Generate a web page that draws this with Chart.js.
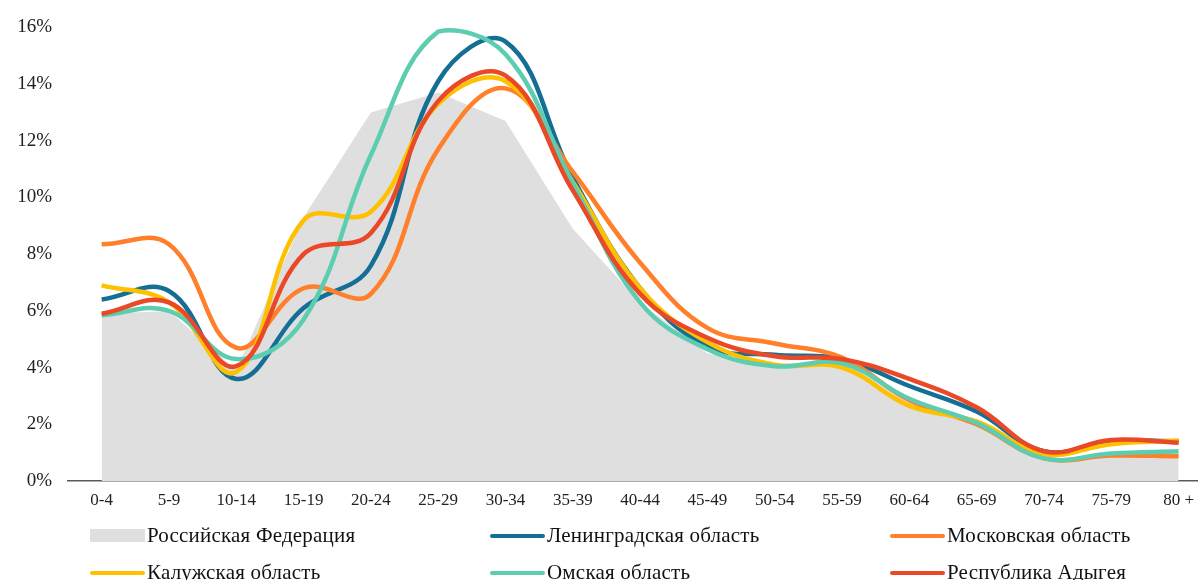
<!DOCTYPE html>
<html>
<head>
<meta charset="utf-8">
<script src="https://cdn.jsdelivr.net/npm/chart.js@4/dist/chart.umd.min.js"></script>
<style>
    html, body { margin: 0; padding: 0; background: #fff; }
    #wrap { position: relative; width: 1203px; height: 580px; overflow: hidden; }
    #box { position: absolute; left: 0; top: 0; width: 1203px; height: 515px; }
    #legend { position: absolute; left: 0; top: 0; width: 1203px; height: 580px; pointer-events: none; }
    .item { position: absolute; display: flex; align-items: center; font-family: "Liberation Serif", serif; font-size: 21px; letter-spacing: 0.2px; color: #111; white-space: nowrap; }
    .mark { width: 55px; margin-right: 2px; }
</style>
</head>
<body>
<div id="wrap">
    <div id="box"><canvas id="graph"></canvas></div>
    <div id="legend"></div>
</div>
<script>
// age groups
const ageGroups = ['0-4', '5-9', '10-14', '15-19', '20-24', '25-29', '30-34', '35-39', '40-44',
    '45-49', '50-54', '55-59', '60-64', '65-69', '70-74', '75-79', '80 +']

// share of population in each age group, %
const russia    = [5.9, 6.0, 3.9, 9.3, 13.0, 13.7, 12.7, 8.9, 6.3, 4.5, 4.05, 4.2, 2.8, 2.0, 0.75, 0.95, 1.0]
const leningrad = [6.4, 6.7, 3.6, 6.1, 7.6, 14.1, 15.5, 10.7, 6.8, 4.75, 4.45, 4.3, 3.35, 2.45, 1.05, 1.4, 1.4]
const moscow    = [8.35, 8.35, 4.7, 6.8, 6.6, 11.7, 13.85, 10.9, 7.7, 5.4, 4.85, 4.35, 2.85, 2.0, 0.8, 0.9, 0.87]
const kaluga    = [6.9, 6.3, 3.85, 9.2, 9.5, 13.3, 14.1, 10.55, 6.8, 4.9, 4.1, 4.0, 2.65, 2.1, 0.95, 1.3, 1.43]
const omsk      = [5.85, 6.0, 4.3, 5.7, 11.5, 15.85, 15.05, 10.5, 6.3, 4.65, 4.05, 4.15, 2.9, 2.05, 0.8, 0.97, 1.05]
const adygea    = [5.9, 6.3, 4.05, 8.0, 8.75, 13.4, 14.3, 10.25, 6.6, 5.05, 4.4, 4.3, 3.6, 2.6, 1.05, 1.45, 1.35]

const yTicks = [0, 2, 4, 6, 8, 10, 12, 14, 16]

// linear x axis so the axis line can run past the first and last group like in excel
let toPoints = arr => arr.map((v, i) => ({x: i, y: v}))

let lineSet = (label, data, color, order) => ({
    label: label,
    data: toPoints(data),
    borderColor: color,
    backgroundColor: color,
    borderWidth: 4.5,
    tension: 0.4,
    fill: false,
    pointRadius: 0,
    order: order
})

let chart = new Chart(document.getElementById('graph'), {
    type: 'line',
    data: {
        datasets: [
            {
                label: 'Российская Федерация',
                data: toPoints(russia),
                borderWidth: 0,
                backgroundColor: '#dfdfdf',
                borderColor: '#dfdfdf',
                fill: 'origin',
                tension: 0,
                pointRadius: 0,
                order: 7
            },
            lineSet('Ленинградская область', leningrad, '#156f94', 6),
            lineSet('Московская область', moscow, '#ff7f2a', 5),
            lineSet('Калужская область', kaluga, '#ffc000', 4),
            lineSet('Омская область', omsk, '#5ccdb0', 3),
            lineSet('Республика Адыгея', adygea, '#ea4826', 2)
        ]
    },
    options: {
        responsive: true,
        maintainAspectRatio: false,
        animation: false,
        layout: {padding: {top: 20, left: 0, right: 0, bottom: 0}},
        scales: {
            x: {
                type: 'linear',
                min: -0.5,
                max: 16.28,
                afterFit: s => { s.height = 34 },
                grid: {display: false, drawTicks: false},
                border: {display: true, color: '#595959', width: 1.5},
                ticks: {
                    stepSize: 1,
                    includeBounds: false,
                    autoSkip: false,
                    maxRotation: 0,
                    padding: 9,
                    color: '#222',
                    font: {family: 'Liberation Serif', size: 17},
                    callback: v => Number.isInteger(v) ? ageGroups[v] : ''
                }
            },
            y: {
                min: 0,
                max: 16,
                afterFit: s => { s.width = 68 },
                afterBuildTicks: s => { s.ticks = yTicks.map(v => ({value: v})) },
                grid: {display: false, drawTicks: false},
                border: {display: false},
                ticks: {
                    padding: 16,
                    color: '#222',
                    font: {family: 'Liberation Serif', size: 19},
                    callback: v => v + '%'
                }
            }
        },
        plugins: {
            legend: {display: false},
            tooltip: {enabled: false}
        }
    }
})

// html legend in three columns, like the original
let legend = document.getElementById('legend')
let cols = [90, 490, 890]
let rows = [536, 573]
chart.data.datasets.forEach((ds, i) => {
    let item = document.createElement('div')
    item.className = 'item'
    item.style.left = cols[i % 3] + 'px'
    item.style.top = (rows[Math.floor(i / 3)] - 13) + 'px'
    let mark = document.createElement('span')
    mark.className = 'mark'
    if (ds.fill) {
        mark.style.height = '13px'
        mark.style.background = ds.backgroundColor
    } else {
        mark.style.height = '4px'
        mark.style.borderRadius = '2px'
        mark.style.background = ds.borderColor
    }
    let txt = document.createElement('span')
    txt.textContent = ds.label
    item.appendChild(mark)
    item.appendChild(txt)
    legend.appendChild(item)
})
</script>
</body>
</html>
